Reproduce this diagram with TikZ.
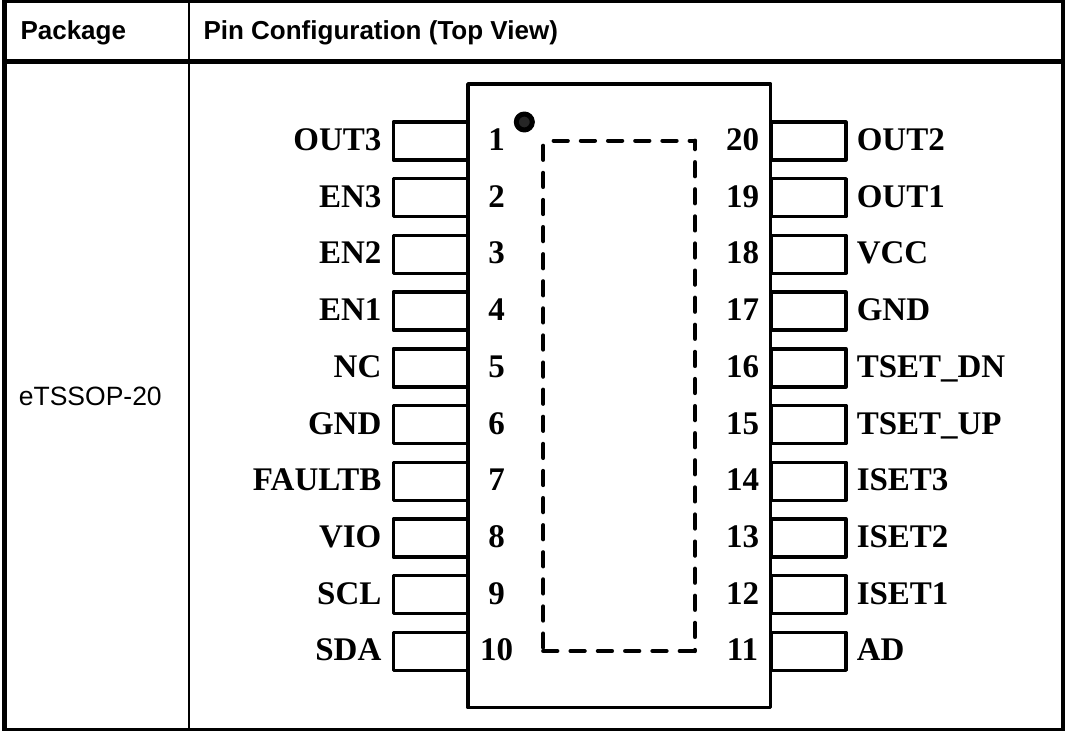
\documentclass[tikz,border=0pt]{standalone}
\usepackage{fontspec}
\setmainfont{Liberation Serif}
\setsansfont{Liberation Sans}
\usetikzlibrary{positioning}

\begin{document}
\begin{tikzpicture}[x=1pt, y=-1pt, node distance=56.7pt, line join=round,
    pad line/.style={line width=4.3pt, line cap=round},
    head node/.style={font=\sffamily\fontsize{26}{30}\selectfont\bfseries, anchor=west},
    pin node/.style={rectangle, draw, line width=3.4pt, minimum width=74.7pt, minimum height=38pt, inner sep=0pt},
    name node/.style={font=\fontsize{33}{38}\selectfont\bfseries, inner sep=0pt, text height=22pt, text depth=3pt},
    num node/.style={font=\fontsize{33}{38}\selectfont\bfseries, inner sep=0pt, text height=22pt, text depth=3pt}]

  \useasboundingbox (0,0) rectangle (1066,731);

  % table
  \draw[line width=4.4pt, line join=miter] (4.5,0.8) rectangle (1063.2,729.8);
  \draw[line width=4.7pt] (4.5,61.7) -- (1063.2,61.7);
  \draw[line width=2.3pt] (188.7,0.8) -- (188.7,729.8);
  \node[head node] (package) at (17,33) {Package};
  \node[head node] (config) at (200,33) {Pin Configuration (Top View)};
  \node[font=\sffamily\fontsize{26.5}{30}\selectfont] (type) at (90.3,396.5) {eTSSOP-20};

  % chip
  \node[rectangle, draw, line width=3.4pt, minimum width=302.8pt, minimum height=623.7pt, inner sep=0pt] (chip) at (619.3,395.85) {};
  \node[rectangle, minimum width=151.7pt, minimum height=510.3pt, inner sep=0pt, outer sep=0pt] (pad) at (619.15,395.85) {};
  \node[circle, draw, fill=black!85, line width=5pt, minimum size=16pt, inner sep=0pt] (dot) at (524.3,122) {};

  % dashed pad edges
  \draw[pad line, dash pattern=on 14pt off 13.3pt] (pad.south west) -- (pad.south east);
  \draw[pad line, dash pattern=on 14pt off 13.1pt, dash phase=23.7pt] (pad.south west) -- (pad.north west);
  \draw[pad line, dash pattern=on 14pt off 13.2pt, dash phase=16.8pt] (pad.north west) -- (pad.north east);
  \draw[pad line, dash pattern=on 14pt off 13.1pt, dash phase=5.6pt] (pad.north east) -- (pad.south east);

  % left pins
  \node[pin node] (p1) at (430.6,141) {};
  \node[pin node] (p2) [below of=p1] {};
  \node[pin node] (p3) [below of=p2] {};
  \node[pin node] (p4) [below of=p3] {};
  \node[pin node] (p5) [below of=p4] {};
  \node[pin node] (p6) [below of=p5] {};
  \node[pin node] (p7) [below of=p6] {};
  \node[pin node] (p8) [below of=p7] {};
  \node[pin node] (p9) [below of=p8] {};
  \node[pin node] (p10) [below of=p9] {};

  % right pins
  \node[pin node] (p20) at (808.5,141) {};
  \node[pin node] (p19) [below of=p20] {};
  \node[pin node] (p18) [below of=p19] {};
  \node[pin node] (p17) [below of=p18] {};
  \node[pin node] (p16) [below of=p17] {};
  \node[pin node] (p15) [below of=p16] {};
  \node[pin node] (p14) [below of=p15] {};
  \node[pin node] (p13) [below of=p14] {};
  \node[pin node] (p12) [below of=p13] {};
  \node[pin node] (p11) [below of=p12] {};

  % left names
  \node[name node] (n1) [left=10pt of p1] {OUT3};
  \node[name node] (n2) [left=10pt of p2] {EN3};
  \node[name node] (n3) [left=10pt of p3] {EN2};
  \node[name node] (n4) [left=10pt of p4] {EN1};
  \node[name node] (n5) [left=10pt of p5] {NC};
  \node[name node] (n6) [left=10pt of p6] {GND};
  \node[name node] (n7) [left=10pt of p7] {FAULTB};
  \node[name node] (n8) [left=10pt of p8] {VIO};
  \node[name node] (n9) [left=10pt of p9] {SCL};
  \node[name node] (n10) [left=10pt of p10] {SDA};

  % right names
  \node[name node] (n20) [right=9pt of p20] {OUT2};
  \node[name node] (n19) [right=9pt of p19] {OUT1};
  \node[name node] (n18) [right=9pt of p18] {VCC};
  \node[name node] (n17) [right=9pt of p17] {GND};
  \node[name node] (n16) [right=9pt of p16] {TSET\_DN};
  \node[name node] (n15) [right=9pt of p15] {TSET\_UP};
  \node[name node] (n14) [right=9pt of p14] {ISET3};
  \node[name node] (n13) [right=9pt of p13] {ISET2};
  \node[name node] (n12) [right=9pt of p12] {ISET1};
  \node[name node] (n11) [right=9pt of p11] {AD};

  % pin numbers
  \node[num node] (a1) [right of=p1, node distance=66pt] {1};
  \node[num node] (a2) [right of=p2, node distance=66pt] {2};
  \node[num node] (a3) [right of=p3, node distance=66pt] {3};
  \node[num node] (a4) [right of=p4, node distance=66pt] {4};
  \node[num node] (a5) [right of=p5, node distance=66pt] {5};
  \node[num node] (a6) [right of=p6, node distance=66pt] {6};
  \node[num node] (a7) [right of=p7, node distance=66pt] {7};
  \node[num node] (a8) [right of=p8, node distance=66pt] {8};
  \node[num node] (a9) [right of=p9, node distance=66pt] {9};
  \node[num node] (a10) [right of=p10, node distance=66pt] {10};
  \node[num node] (a20) [left of=p20, node distance=66pt] {20};
  \node[num node] (a19) [left of=p19, node distance=66pt] {19};
  \node[num node] (a18) [left of=p18, node distance=66pt] {18};
  \node[num node] (a17) [left of=p17, node distance=66pt] {17};
  \node[num node] (a16) [left of=p16, node distance=66pt] {16};
  \node[num node] (a15) [left of=p15, node distance=66pt] {15};
  \node[num node] (a14) [left of=p14, node distance=66pt] {14};
  \node[num node] (a13) [left of=p13, node distance=66pt] {13};
  \node[num node] (a12) [left of=p12, node distance=66pt] {12};
  \node[num node] (a11) [left of=p11, node distance=66pt] {11};

\end{tikzpicture}
\end{document}
